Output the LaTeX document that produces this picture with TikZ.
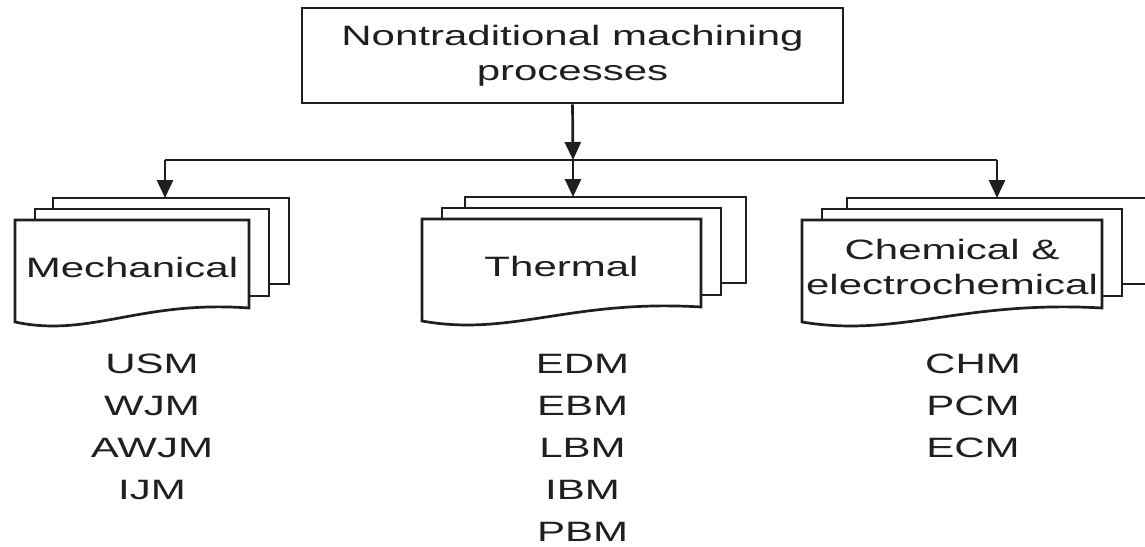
\documentclass[tikz,border=0pt]{standalone}
\usepackage{fontspec}
\setmainfont{Liberation Sans}[FakeStretch=1.5]
\usetikzlibrary{arrows.meta}

% A stack of three pages: #1 = left of the front page, #2 = its top,
% #3 = page width, #4 = horizontal shift of the rearmost page
\newcommand\DocStack[4]{%
  \path[page] (#1+#4,#2-22) rectangle ++(#3+2,86);
  \path[page] (#1+20,#2-11) rectangle ++(#3,87);
  \path[page] (#1,#2) -- ++(#3,0) -- ++(0,88)
    .. controls (#1+0.534*#3,#2+80) and (#1+0.32*#3,#2+118) .. (#1,#2+102) -- cycle;
}

\begin{document}
\begin{tikzpicture}[x=0.5pt,y=-0.5pt,
  ink/.style={draw=black!88, line width=1.35pt},
  page/.style={ink, fill=white},
  link/.style={ink, -{Triangle[width=8pt,length=9pt]}},
  label/.style={font=\fontsize{14}{17.5}\selectfont, text=black!88, align=center, inner sep=0pt},
  item/.style={font=\fontsize{14}{17}\selectfont, text=black!88, inner sep=0pt, anchor=base}]

\useasboundingbox (0,0) rectangle (1145,546);

% root box
\node[ink, label, minimum width=270.5pt, minimum height=47.5pt] (top) at (572.5,55.5)
  {Nontraditional machining\\processes};

% the three page stacks
\DocStack{15}{220}{234}{38}
\DocStack{422}{219}{279}{43}
\DocStack{802}{220}{300}{45}

\node[label] (mech) at (132,267) {Mechanical};
\node[label] (therm) at (561.5,266) {Thermal};
\node[label] (chem) at (952,267) {Chemical \&\\electrochemical};

% connectors
\coordinate (J) at (573,160);
\coordinate (Jl) at (165,160);
\coordinate (Jr) at (997,160);
\coordinate (mechin) at (165,198);
\coordinate (thermin) at (573,197);
\coordinate (chemin) at (997,198);

\draw[link] (top.south) -- (J);
\draw[ink] (Jl) -- (Jr);
\draw[link] (Jl) -- (mechin);
\draw[link] (J) -- (thermin);
\draw[link] (Jr) -- (chemin);

% process lists
\foreach \t [count=\i from 0] in {USM,WJM,AWJM,IJM}
  \node[item] (mech\i) at (152,373+42*\i) {\t};
\foreach \t [count=\i from 0] in {EDM,EBM,LBM,IBM,PBM}
  \node[item] (therm\i) at (582.5,373+42*\i) {\t};
\foreach \t [count=\i from 0] in {CHM,PCM,ECM}
  \node[item] (chem\i) at (973,373+42*\i) {\t};

\end{tikzpicture}
\end{document}
